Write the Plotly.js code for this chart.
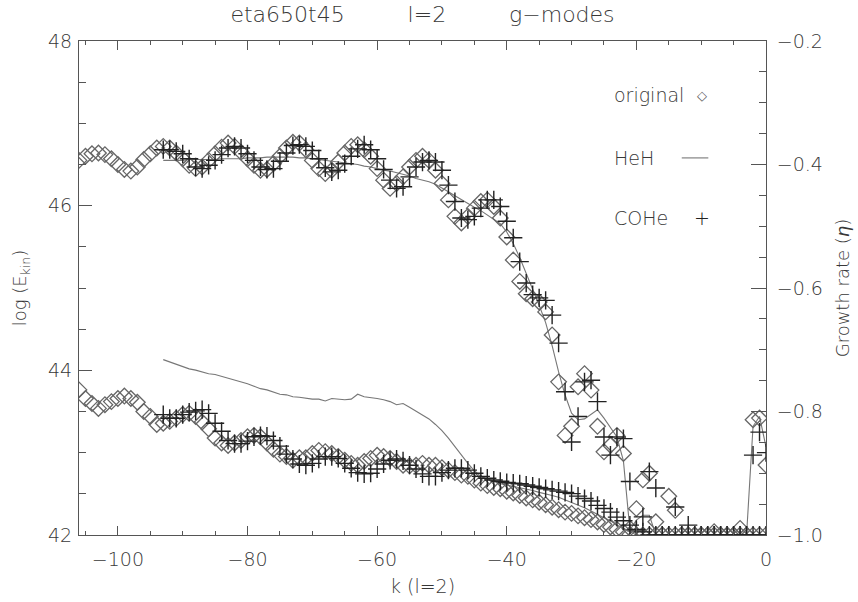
<!DOCTYPE html>
<html>
<head>
<meta charset="utf-8">
<script src="https://cdn.plot.ly/plotly-3.0.1.min.js"></script>
<style>html,body{margin:0;padding:0;background:#fff;}#chart{width:858px;height:602px;}</style>
</head>
<body>
<div id="chart"></div>
<script>
// k values (mode order, l=2)
const kOriginal = [-106,-105,-104,-103,-102,-101,-100,-99,-98,-97,
  -96,-95,-94,-93,-92,-91,-90,-89,-88,-87,
  -86,-85,-84,-83,-82,-81,-80,-79,-78,-77,
  -76,-75,-74,-73,-72,-71,-70,-69,-68,-67,
  -66,-65,-64,-63,-62,-61,-60,-59,-58,-57,
  -56,-55,-54,-53,-52,-51,-50,-49,-48,-47,
  -46,-45,-44,-43,-42,-41,-40,-39,-38,-37,
  -36,-35,-34,-33,-32,-31,-30,-29,-28,-27,
  -26,-25,-24,-23,-22,-21,-20,-19,-18,-17,
  -16,-15,-14,-13,-12,-11,-10,-9,-8,-7,
  -6,-5,-4,-3,-2,-1,0];
const kModels = [-93,-92,-91,-90,-89,-88,-87,-86,-85,-84,
  -83,-82,-81,-80,-79,-78,-77,-76,-75,-74,
  -73,-72,-71,-70,-69,-68,-67,-66,-65,-64,
  -63,-62,-61,-60,-59,-58,-57,-56,-55,-54,
  -53,-52,-51,-50,-49,-48,-47,-46,-45,-44,
  -43,-42,-41,-40,-39,-38,-37,-36,-35,-34,
  -33,-32,-31,-30,-29,-28,-27,-26,-25,-24,
  -23,-22,-21,-20,-19,-18,-17,-16,-15,-14,
  -13,-12,-11,-10,-9,-8,-7,-6,-5,-4,
  -3,-2,-1,0];

// log(E_kin), left axis
const ekinOriginal = [46.55,46.60,46.63,46.64,46.62,46.57,46.50,46.44,46.42,46.47,
  46.56,46.63,46.70,46.72,46.70,46.64,46.57,46.49,46.45,46.47,
  46.55,46.63,46.71,46.76,46.72,46.65,46.57,46.49,46.43,46.44,
  46.51,46.60,46.70,46.77,46.76,46.68,46.55,46.45,46.39,46.43,
  46.53,46.64,46.72,46.74,46.68,46.60,46.45,46.31,46.21,46.27,
  46.35,46.47,46.55,46.60,46.55,46.43,46.27,46.07,45.87,45.79,
  45.87,45.97,46.05,46.07,45.99,45.85,45.62,45.34,45.08,44.93,
  44.87,44.83,44.71,44.43,43.86,43.21,43.32,43.80,43.96,43.76,
  43.32,43.01,43.09,43.21,42.99,42.08,42.32,42.67,42.75,42.16,
  42.00,42.47,42.30,42.00,42.00,42.00,42.00,42.00,42.04,42.00,
  42.00,42.00,42.08,42.00,43.40,43.42,42.85];
const ekinHeH = [46.55,46.55,46.55,46.55,46.56,46.56,46.56,46.56,46.56,46.57,
  46.57,46.57,46.57,46.58,46.58,46.58,46.59,46.59,46.59,46.59,
  46.59,46.58,46.58,46.57,46.56,46.55,46.54,46.53,46.52,46.51,
  46.50,46.48,46.47,46.45,46.43,46.42,46.40,46.38,46.36,46.33,
  46.31,46.29,46.26,46.22,46.17,46.12,46.07,46.02,45.98,45.94,
  45.89,45.84,45.78,45.68,45.54,45.37,45.18,44.98,44.79,44.58,
  44.30,43.98,43.70,43.48,43.40,43.41,43.46,43.52,43.42,43.30,
  43.19,42.90,42.06,42.18,42.24,42.24,42.00,42.00,42.00,42.00,
  42.00,42.00,42.00,42.00,42.00,42.00,42.00,42.00,42.00,42.00,
  42.00,43.32,43.44,43.07];
const ekinCOHe = [46.68,46.68,46.66,46.63,46.57,46.47,46.45,46.49,46.55,46.62,
  46.70,46.72,46.70,46.63,46.55,46.47,46.44,46.45,46.54,46.64,
  46.73,46.74,46.72,46.67,46.57,46.46,46.41,46.43,46.51,46.60,
  46.69,46.74,46.68,46.57,46.44,46.31,46.21,46.23,46.35,46.47,
  46.53,46.55,46.53,46.43,46.25,46.05,45.85,45.83,45.87,45.97,
  46.07,46.07,45.99,45.81,45.61,45.32,45.06,44.92,44.88,44.85,
  44.67,44.33,43.74,43.13,43.44,43.86,43.88,43.62,43.19,42.97,
  43.19,43.17,42.65,42.05,42.22,42.77,42.57,42.00,42.00,42.34,
  42.00,42.12,42.00,42.00,42.00,42.00,42.00,42.00,42.00,42.00,
  42.00,42.97,43.25,43.00];

// growth rate eta, right axis
const etaOriginal = [-0.765,-0.779,-0.787,-0.795,-0.789,-0.784,-0.779,-0.775,-0.779,-0.785,
  -0.800,-0.808,-0.821,-0.819,-0.816,-0.811,-0.805,-0.803,-0.808,-0.817,
  -0.828,-0.843,-0.851,-0.855,-0.851,-0.847,-0.841,-0.839,-0.841,-0.851,
  -0.861,-0.869,-0.873,-0.879,-0.875,-0.875,-0.868,-0.863,-0.865,-0.868,
  -0.873,-0.879,-0.884,-0.887,-0.881,-0.876,-0.871,-0.873,-0.876,-0.881,
  -0.887,-0.888,-0.887,-0.884,-0.887,-0.887,-0.891,-0.895,-0.899,-0.903,
  -0.905,-0.911,-0.916,-0.920,-0.923,-0.925,-0.929,-0.932,-0.936,-0.940,
  -0.943,-0.947,-0.951,-0.955,-0.959,-0.963,-0.965,-0.969,-0.972,-0.975,
  -0.979,-0.983,-0.987,-0.991,-0.995,-0.999,-1.0,-1.0,-1.0,-1.0,
  -1.0,-1.0,-1.0,-1.0,-1.0,-1.0,-1.0,-1.0,-1.0,-1.0,
  -1.0,-1.0,-1.0,-1.0,-1.0,-1.0,-1.0];
const etaHeH = [-0.716,-0.720,-0.724,-0.727,-0.731,-0.733,-0.736,-0.739,-0.740,-0.743,
  -0.745,-0.748,-0.751,-0.755,-0.759,-0.763,-0.765,-0.769,-0.772,-0.773,
  -0.776,-0.777,-0.779,-0.780,-0.780,-0.783,-0.779,-0.780,-0.781,-0.780,
  -0.772,-0.776,-0.777,-0.779,-0.781,-0.784,-0.789,-0.787,-0.793,-0.799,
  -0.805,-0.812,-0.821,-0.831,-0.843,-0.857,-0.871,-0.884,-0.896,-0.905,
  -0.909,-0.913,-0.917,-0.919,-0.921,-0.924,-0.925,-0.928,-0.931,-0.933,
  -0.936,-0.939,-0.943,-0.947,-0.951,-0.956,-0.961,-0.967,-0.972,-0.977,
  -0.984,-0.989,-0.995,-1.0,-1.0,-1.0,-1.0,-1.0,-1.0,-1.0,
  -1.0,-1.0,-1.0,-1.0,-1.0,-1.0,-1.0,-1.0,-1.0,-1.0,
  -1.0,-1.0,-1.0,-1.0];
const etaCOHe = [-0.805,-0.811,-0.811,-0.805,-0.801,-0.799,-0.797,-0.803,-0.819,-0.832,
  -0.847,-0.852,-0.852,-0.848,-0.841,-0.839,-0.840,-0.847,-0.856,-0.869,
  -0.877,-0.885,-0.887,-0.884,-0.877,-0.873,-0.873,-0.876,-0.884,-0.892,
  -0.899,-0.901,-0.900,-0.893,-0.885,-0.879,-0.877,-0.880,-0.887,-0.893,
  -0.901,-0.905,-0.905,-0.899,-0.895,-0.892,-0.892,-0.895,-0.900,-0.905,
  -0.908,-0.911,-0.913,-0.915,-0.916,-0.917,-0.919,-0.921,-0.923,-0.925,
  -0.927,-0.929,-0.931,-0.933,-0.937,-0.941,-0.945,-0.952,-0.957,-0.963,
  -0.971,-0.977,-0.984,-0.991,-0.995,-1.0,-1.0,-1.0,-1.0,-1.0,
  -1.0,-1.0,-1.0,-1.0,-1.0,-1.0,-1.0,-1.0,-1.0,-1.0,
  -1.0,-1.0,-1.0,-1.0];

const FONT = 'DejaVu Sans, Liberation Sans, sans-serif';
const TXT = '#383838';
const AX = '#555';
const W = 200;
const diamond = {symbol:'diamond-open', size:12, color:'#666', line:{width:1.3, color:'#666'}};
const cross = {symbol:'cross-thin-open', size:13, color:'#222', line:{width:1.4, color:'#222'}};
const heh = {color:'#777', width:1.1};

const traces = [
  {x:kModels, y:ekinHeH, type:'scatter', mode:'lines', line:heh, yaxis:'y'},
  {x:kOriginal, y:ekinOriginal, type:'scatter', mode:'markers', marker:diamond, yaxis:'y'},
  {x:kModels, y:ekinCOHe, type:'scatter', mode:'markers', marker:cross, yaxis:'y'},
  {x:kModels, y:etaHeH, type:'scatter', mode:'lines', line:heh, yaxis:'y2'},
  {x:kOriginal, y:etaOriginal, type:'scatter', mode:'markers', marker:diamond, yaxis:'y2'},
  {x:kModels, y:etaCOHe, type:'scatter', mode:'markers', marker:cross, yaxis:'y2'}
];

const nb = '\u00a0';
const f = (s, c) => ({family:FONT, size:s, color:c || TXT, weight:W});
const layout = {
  width:858, height:602,
  margin:{l:79, r:92, t:41, b:67, pad:0},
  paper_bgcolor:'#fff', plot_bgcolor:'#fff',
  showlegend:false,
  font:f(18),
  title:{text:'eta650t45'+nb.repeat(9)+'l=2'+nb.repeat(9)+'g\u2212modes', x:0.5, xref:'paper', y:0.977, yref:'container', yanchor:'middle', font:f(22)},
  xaxis:{range:[-106,0], dtick:20, tick0:0, ticks:'inside', ticklen:9, tickwidth:1, tickcolor:AX,
    showline:true, linecolor:AX, linewidth:1, mirror:'ticks', showgrid:false, zeroline:false,
    minor:{dtick:5, tick0:0, ticks:'inside', ticklen:4, tickcolor:AX, showgrid:false},
    tickfont:f(19), ticklabelstandoff:7,
    title:{text:'k (l=2)', font:f(19), standoff:10}},
  yaxis:{range:[42,48], dtick:2, tick0:0, ticks:'inside', ticklen:13, tickwidth:1, tickcolor:AX,
    showline:true, linecolor:AX, linewidth:1, showgrid:false, zeroline:false,
    minor:{dtick:0.5, tick0:0, ticks:'inside', ticklen:7, tickcolor:AX, showgrid:false},
    tickfont:f(19), ticklabelstandoff:2,
    title:{text:'log (E<sub>kin</sub>)', font:f(18), standoff:16}},
  yaxis2:{range:[-1,-0.2], dtick:0.2, tick0:0, tickformat:'.1f', overlaying:'y', side:'right', anchor:'x',
    ticks:'inside', ticklen:15, tickwidth:1, tickcolor:AX,
    showline:true, linecolor:AX, linewidth:1, showgrid:false, zeroline:false,
    minor:{dtick:0.05, tick0:0, ticks:'inside', ticklen:7, tickcolor:AX, showgrid:false},
    tickfont:f(19), ticklabelstandoff:6,
    title:{text:'Growth rate (<i>\u03b7</i>)', font:f(18), standoff:14}},
  annotations:[
    {xref:'x', yref:'y', x:-23.8, y:47.34, text:'original', showarrow:false, xanchor:'left', yanchor:'middle', font:f(19)},
    {xref:'x', yref:'y', x:-9.9, y:47.34, text:'\u25c7', showarrow:false, xanchor:'center', yanchor:'middle', font:{family:FONT, size:13, color:'#555'}},
    {xref:'x', yref:'y', x:-23.8, y:46.58, text:'HeH', showarrow:false, xanchor:'left', yanchor:'middle', font:f(19)},
    {xref:'x', yref:'y', x:-23.8, y:45.85, text:'COHe', showarrow:false, xanchor:'left', yanchor:'middle', font:f(19)},
    {xref:'x', yref:'y', x:-9.9, y:45.85, text:'+', showarrow:false, xanchor:'center', yanchor:'middle', font:{family:FONT, size:19, color:'#222'}}
  ],
  shapes:[
    {type:'line', xref:'x', yref:'y', x0:-13.0, x1:-8.9, y0:46.58, y1:46.58, line:{color:'#777', width:1.1}}
  ]
};

Plotly.newPlot('chart', traces, layout, {displayModeBar:false, staticPlot:true});
</script>
</body>
</html>
